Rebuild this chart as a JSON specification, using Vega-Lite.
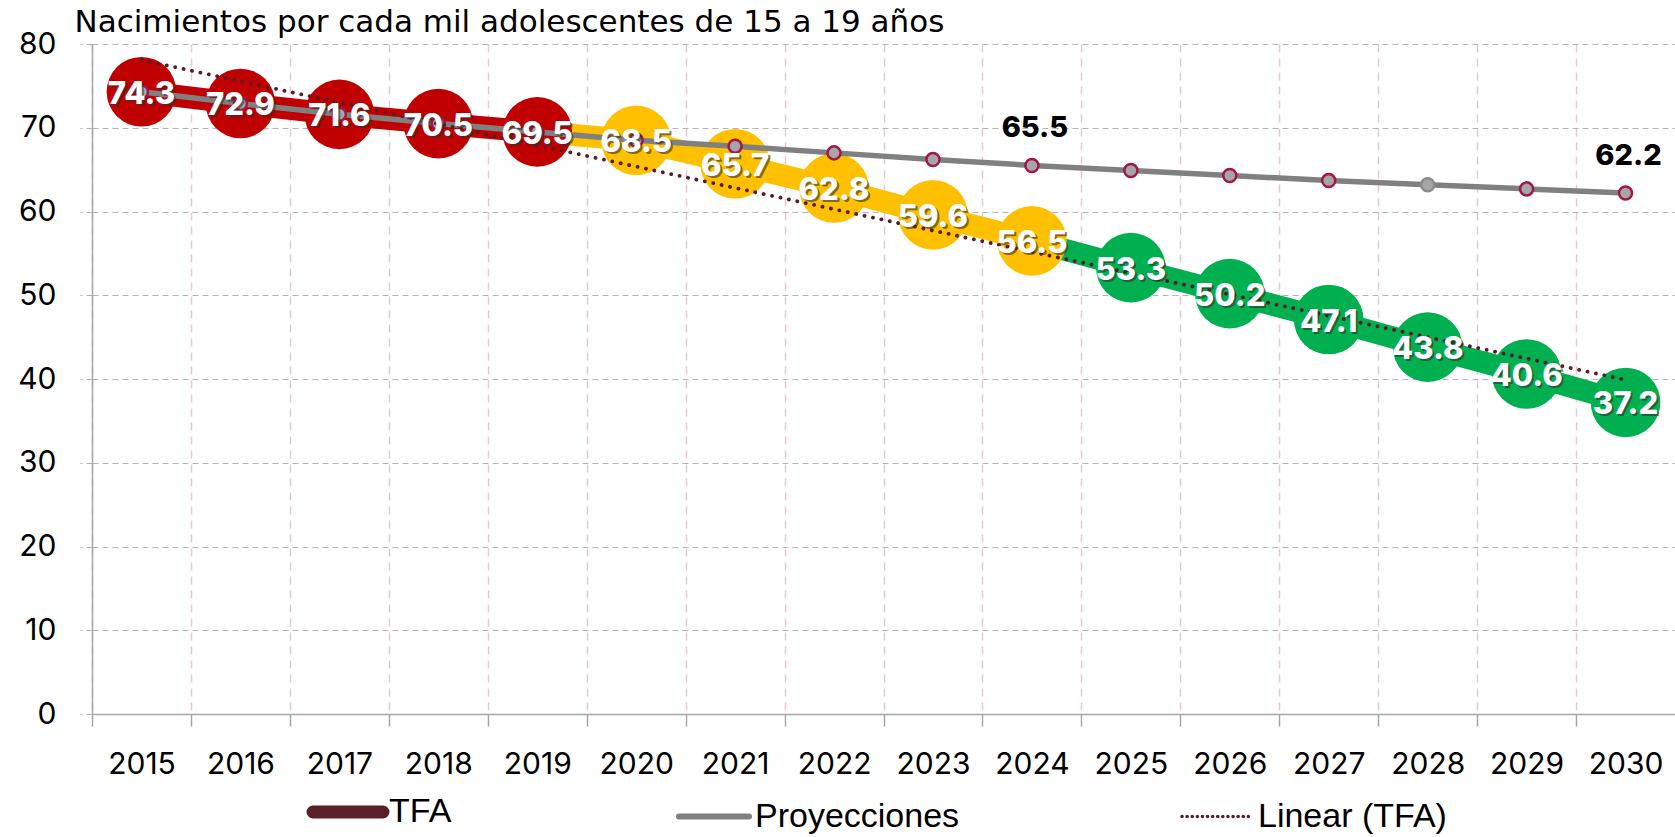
{
  "$schema": "https://vega.github.io/schema/vega-lite/v6.json",
  "width": 1583,
  "height": 670,
  "autosize": {"type": "none"},
  "padding": {"left": 92, "top": 44, "right": 0, "bottom": 123},
  "background": "white",
  "config": {
    "view": {"stroke": null},
    "font": "Inter",
    "axis": {"labelFont": "Inter", "titleFont": "DejaVu Sans", "labelColor": "#000000", "titleColor": "#000000"}
  },
  "datasets": {
    "tfa": [
      {"anio": 2015, "tfa": 74.3, "proy": 74.3},
      {"anio": 2016, "tfa": 72.9, "proy": 72.9},
      {"anio": 2017, "tfa": 71.6, "proy": 71.6},
      {"anio": 2018, "tfa": 70.5, "proy": 70.5},
      {"anio": 2019, "tfa": 69.5, "proy": 69.5},
      {"anio": 2020, "tfa": 68.5, "proy": 68.5},
      {"anio": 2021, "tfa": 65.7, "proy": 67.8},
      {"anio": 2022, "tfa": 62.8, "proy": 67.0},
      {"anio": 2023, "tfa": 59.6, "proy": 66.2},
      {"anio": 2024, "tfa": 56.5, "proy": 65.5},
      {"anio": 2025, "tfa": 53.3, "proy": 64.9},
      {"anio": 2026, "tfa": 50.2, "proy": 64.3},
      {"anio": 2027, "tfa": 47.1, "proy": 63.7},
      {"anio": 2028, "tfa": 43.8, "proy": 63.2},
      {"anio": 2029, "tfa": 40.6, "proy": 62.7},
      {"anio": 2030, "tfa": 37.2, "proy": 62.2}
    ],
    "tendencia": [
      {"anio": 2015, "valor": 78.1},
      {"anio": 2030, "valor": 39.9}
    ],
    "series": [
      {"serie": "TFA"},
      {"serie": "Proyecciones"},
      {"serie": "Linear (TFA)"}
    ]
  },
  "layer": [
    {
      "data": {"name": "tfa"},
      "transform": [
        {"window": [{"op": "lag", "field": "anio", "as": "anio0"}, {"op": "lag", "field": "tfa", "as": "tfa0"}], "sort": [{"field": "anio"}]},
        {"filter": "datum.anio0 != null"}
      ],
      "mark": {"type": "rule", "strokeWidth": 22},
      "encoding": {
        "x": {
          "field": "anio0", "type": "quantitative",
          "scale": {"domain": [2014.5, 2030.5], "nice": false, "zero": false},
          "axis": {
            "title": null,
            "values": [2014.5, 2015.5, 2016.5, 2017.5, 2018.5, 2019.5, 2020.5, 2021.5, 2022.5, 2023.5, 2024.5, 2025.5, 2026.5, 2027.5, 2028.5, 2029.5],
            "labelExpr": "datum.value + 0.5",
            "labelOffset": 49.5,
            "labelFlush": false,
            "labelOverlap": false,
            "labelFontSize": 30,
            "labelPadding": 23,
            "grid": true,
            "gridColor": "#E9C6D2",
            "gridDash": [8, 6],
            "gridWidth": 1.5,
            "tickSize": 12,
            "tickColor": "#A6A6A6",
            "tickWidth": 1.5,
            "domainColor": "#A6A6A6",
            "domainWidth": 1.5
          }
        },
        "x2": {"field": "anio"},
        "y": {
          "field": "tfa0", "type": "quantitative",
          "scale": {"domain": [0, 80], "nice": false},
          "axis": {
            "values": [0, 10, 20, 30, 40, 50, 60, 70, 80],
            "title": "Nacimientos por cada mil adolescentes de 15 a 19 años",
            "titleAngle": 0,
            "titleX": -18,
            "titleY": -22,
            "titleAlign": "left",
            "titleBaseline": "middle",
            "titleFontSize": 31,
            "titleFontWeight": "normal",
            "labelFontSize": 30,
            "labelPadding": 24,
            "grid": true,
            "gridColor": "#B3B3B3",
            "gridDash": [6, 4],
            "gridWidth": 1.2,
            "tickSize": 12,
            "tickColor": "#B3B3B3",
            "tickDash": [6, 4],
            "domainColor": "#A6A6A6",
            "domainWidth": 1.5
          }
        },
        "y2": {"field": "tfa"},
        "color": {
          "condition": [
            {"test": "datum.anio <= 2019", "value": "#C00000"},
            {"test": "datum.anio <= 2024", "value": "#FFC000"}
          ],
          "value": "#00B050"
        }
      }
    },
    {
      "data": {"name": "tfa"},
      "mark": {"type": "point", "filled": true, "opacity": 1, "size": 4850},
      "encoding": {
        "x": {"field": "anio", "type": "quantitative"},
        "y": {"field": "tfa", "type": "quantitative"},
        "color": {
          "condition": [
            {"test": "datum.anio <= 2019", "value": "#C00000"},
            {"test": "datum.anio <= 2024", "value": "#FFC000"}
          ],
          "value": "#00B050"
        }
      }
    },
    {
      "data": {"name": "tfa"},
      "mark": {"type": "line", "color": "#808080", "strokeWidth": 5.5},
      "encoding": {
        "x": {"field": "anio", "type": "quantitative"},
        "y": {"field": "proy", "type": "quantitative"}
      }
    },
    {
      "data": {"name": "tfa"},
      "mark": {"type": "point", "filled": true, "opacity": 1, "size": 170, "fill": "#A6A6A6", "strokeWidth": 2.5},
      "encoding": {
        "x": {"field": "anio", "type": "quantitative"},
        "y": {"field": "proy", "type": "quantitative"},
        "stroke": {
          "condition": {"test": "datum.anio == 2028", "value": "#8C8C8C"},
          "value": "#A3164A"
        }
      }
    },
    {
      "data": {"name": "tendencia"},
      "mark": {"type": "line", "color": "#5A1A2A", "strokeWidth": 3.8, "strokeCap": "round", "strokeDash": [0.1, 8.5]},
      "encoding": {
        "x": {"field": "anio", "type": "quantitative"},
        "y": {"field": "valor", "type": "quantitative"}
      }
    },
    {
      "data": {"name": "tfa"},
      "mark": {"type": "text", "font": "Inter", "fontSize": 31, "fontWeight": 800, "color": "#303030", "opacity": 0.6, "dx": 2, "dy": 5, "baseline": "middle", "align": "center"},
      "encoding": {
        "x": {"field": "anio", "type": "quantitative"},
        "y": {"field": "tfa", "type": "quantitative"},
        "text": {"field": "tfa", "type": "quantitative", "format": ".1f"}
      }
    },
    {
      "data": {"name": "tfa"},
      "mark": {"type": "text", "font": "Inter", "fontSize": 31, "fontWeight": 800, "color": "#FFFFFF", "dy": 3, "baseline": "middle", "align": "center"},
      "encoding": {
        "x": {"field": "anio", "type": "quantitative"},
        "y": {"field": "tfa", "type": "quantitative"},
        "text": {"field": "tfa", "type": "quantitative", "format": ".1f"}
      }
    },
    {
      "data": {"name": "tfa"},
      "transform": [{"filter": "datum.anio == 2024 || datum.anio == 2030"}],
      "mark": {"type": "text", "font": "Inter", "fontSize": 29, "fontWeight": 800, "color": "#000000", "dy": -37, "dx": 3, "baseline": "middle", "align": "center"},
      "encoding": {
        "x": {"field": "anio", "type": "quantitative"},
        "y": {"field": "proy", "type": "quantitative"},
        "text": {"field": "proy", "type": "quantitative", "format": ".1f"}
      }
    },
    {
      "data": {"name": "series"},
      "mark": {"type": "line"},
      "encoding": {
        "color": {
          "field": "serie", "type": "nominal",
          "scale": {"domain": ["TFA", "Proyecciones", "Linear (TFA)"], "range": ["#5B1F28", "#808080", "#5B1F28"]},
          "legend": {
            "title": null,
            "orient": "none",
            "legendX": 239,
            "legendY": 751,
            "direction": "horizontal",
            "columns": 3,
            "padding": 0,
            "columnPadding": 215,
            "symbolType": "stroke",
            "symbolSize": 4900,
            "symbolStrokeWidth": 6,
            "labelFont": "Liberation Sans",
            "labelFontSize": 34,
            "labelColor": "#000000",
            "labelOffset": 24,
            "labelLimit": 400,
            "encode": {
              "symbols": {
                "update": {
                  "strokeWidth": {"signal": "datum.value === 'TFA' ? 13 : (datum.value === 'Proyecciones' ? 6 : 3.5)"},
                  "strokeCap": {"value": "round"}
                }
              }
            }
          }
        },
        "strokeDash": {
          "field": "serie", "type": "nominal",
          "scale": {"domain": ["TFA", "Proyecciones", "Linear (TFA)"], "range": [[1, 0], [1, 0], [0.1, 5]]}
        }
      }
    }
  ]
}
